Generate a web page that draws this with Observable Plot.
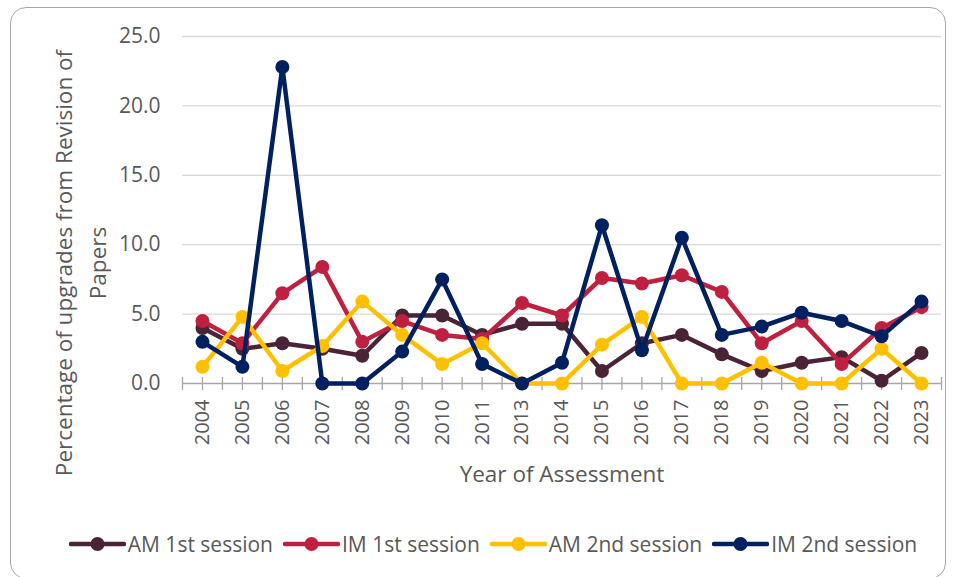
<!DOCTYPE html>
<html>
<head>
<meta charset="utf-8">
<script src="https://cdn.jsdelivr.net/npm/d3@7"></script>
<script src="https://cdn.jsdelivr.net/npm/@observablehq/plot@0.6"></script>
<style>
  html, body { margin: 0; padding: 0; background: #fff; }
  #wrap { position: relative; width: 955px; height: 577px; overflow: hidden; font-family: "Open Sans", sans-serif; }
  #frame { position: absolute; left: 10px; top: 7px; width: 936px; height: 572px; border: 1.5px solid #A6A6A6; border-radius: 16px; box-sizing: border-box; }
  #chart { position: absolute; left: 0; top: 0; }
  #legend { position: absolute; left: 0; top: 530px; width: 955px; display: flex; justify-content: center; align-items: center; gap: 10px; font-size: 21px; color: #595959; padding-left: 31px; box-sizing: border-box; white-space: nowrap; }
  .item { display: flex; align-items: center; gap: 2px; }
</style>
</head>
<body>
<div id="wrap">
  <div id="frame"></div>
  <div id="chart"></div>
  <div id="legend"></div>
</div>
<script>
const years = ["2004","2005","2006","2007","2008","2009","2010","2011","2013","2014","2015","2016","2017","2018","2019","2020","2021","2022","2023"];
const seriesNames = ["AM 1st session", "IM 1st session", "AM 2nd session", "IM 2nd session"];
const seriesColors = ["#4A2436", "#C0203F", "#FFC000", "#002060"];
const amFirst  = [4.0, 2.5, 2.9, 2.5, 2.0, 4.9, 4.9, 3.5, 4.3, 4.3, 0.9, 2.9, 3.5, 2.1, 0.9, 1.5, 1.9, 0.2, 2.2];
const imFirst  = [4.5, 2.9, 6.5, 8.4, 3.0, 4.5, 3.5, 3.2, 5.8, 4.9, 7.6, 7.2, 7.8, 6.6, 2.9, 4.5, 1.4, 4.0, 5.5];
const amSecond = [1.2, 4.8, 0.9, 2.7, 5.9, 3.5, 1.4, 2.9, 0.0, 0.0, 2.8, 4.8, 0.0, 0.0, 1.5, 0.0, 0.0, 2.5, 0.0];
const imSecond = [3.0, 1.2, 22.8, 0.0, 0.0, 2.3, 7.5, 1.4, 0.0, 1.5, 11.4, 2.4, 10.5, 3.5, 4.1, 5.1, 4.5, 3.4, 5.9];
const yTicks = [0, 5, 10, 15, 20, 25];
const yTitle = "Percentage of upgrades from Revision of\nPapers";
const xTitle = "Year of Assessment";

const seriesValues = [amFirst, imFirst, amSecond, imSecond];
const rows = seriesValues.map((vals, s) => vals.map((v, i) => ({i, year: years[i], series: seriesNames[s], value: v})));

// tick marks at category centres and boundaries (Excel style)
const tickPositions = d3.range(-0.5, years.length, 0.5);

const textColor = "#595959";

const marks = [
  Plot.ruleY(yTicks.filter(t => t > 0), {stroke: "#D9D9D9", strokeWidth: 1.3}),
  Plot.ruleY([0], {stroke: "#A6A6A6", strokeWidth: 1.3}),
  Plot.ruleX(tickPositions, {x: d => d, y1: 0, y2: 0, insetTop: -6, insetBottom: -7, stroke: "#A6A6A6", strokeWidth: 1.3}),
  Plot.axisY({ticks: yTicks, tickFormat: d3.format(".1f"), tickSize: 0, tickPadding: 22, fontSize: 21, fill: textColor, label: null}),
  Plot.axisX({ticks: d3.range(years.length), tickFormat: i => years[i], tickSize: 0, tickPadding: 16, tickRotate: -90, fontSize: 20, fill: textColor, label: null}),
  Plot.text([yTitle], {frameAnchor: "left", dx: -104, dy: 53, rotate: -90, lineHeight: 1.5, lineAnchor: "middle", textAnchor: "middle", fontSize: 22.5, fill: textColor}),
  Plot.text([xTitle], {frameAnchor: "bottom", dy: 91, lineAnchor: "middle", textAnchor: "middle", fontSize: 22.5, fill: textColor})
];
rows.forEach((data, s) => {
  marks.push(Plot.line(data, {x: "i", y: "value", stroke: seriesColors[s], strokeWidth: 4.5, strokeLinejoin: "round"}));
  marks.push(Plot.dot(data, {x: "i", y: "value", r: 7, fill: seriesColors[s], stroke: "none"}));
});

const chart = Plot.plot({
  width: 955,
  height: 505,
  marginTop: 36,
  marginBottom: 122,
  marginLeft: 182,
  marginRight: 14,
  style: {fontFamily: "'Open Sans', sans-serif", background: "transparent", color: textColor},
  x: {type: "linear", domain: [-0.5, years.length - 0.5], axis: null},
  y: {domain: [0, 25], axis: null},
  marks
});
document.getElementById("chart").appendChild(chart);

const legend = document.getElementById("legend");
seriesNames.forEach((name, s) => {
  const item = document.createElement("div");
  item.className = "item";
  item.innerHTML = `<svg width="57" height="16"><line x1="2" y1="8" x2="55" y2="8" stroke="${seriesColors[s]}" stroke-width="4.5" stroke-linecap="round"/><circle cx="28.5" cy="8" r="7" fill="${seriesColors[s]}"/></svg><span>${name}</span>`;
  legend.appendChild(item);
});
</script>
</body>
</html>
